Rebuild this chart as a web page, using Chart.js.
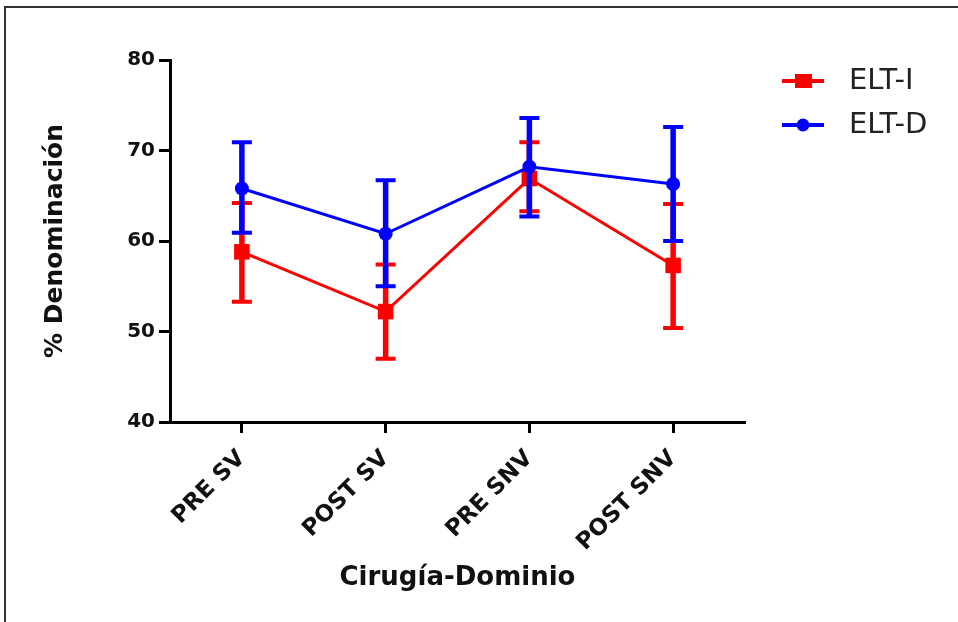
<!DOCTYPE html>
<html>
<head>
<meta charset="utf-8">
<script src="https://cdn.jsdelivr.net/npm/chart.js@4"></script>
<style>
    html, body { margin: 0; padding: 0; background: #fff; }
    #wrap { width: 958px; height: 622px; }
    canvas { display: block; }
</style>
</head>
<body>
<div id="wrap"><canvas id="chart" width="958" height="622"></canvas></div>
<script>
// --- data ---
const categories = ['PRE SV', 'POST SV', 'PRE SNV', 'POST SNV'];
const eltI = [58.8, 52.2, 66.9, 57.3];
const eltIUpper = [64.2, 57.4, 70.9, 64.1];
const eltILower = [53.3, 47.0, 63.3, 50.4];
const eltD = [65.8, 60.8, 68.2, 66.3];
const eltDUpper = [70.9, 66.7, 73.6, 72.6];
const eltDLower = [60.9, 55.0, 62.7, 60.0];
const yTicks = [40, 50, 60, 70, 80];

const FONT = "'DejaVu Sans', Verdana, sans-serif";

// error bars, drawn right after each dataset so blue sits over red
const errorBars = {
    id: 'errorBars',
    afterDatasetDraw(chart, args) {
        const ds = chart.data.datasets[args.index];
        if (!ds.upper) return;
        const ctx = chart.ctx;
        const y = chart.scales.y;
        ctx.save();
        ctx.strokeStyle = ds.borderColor;
        ctx.lineCap = 'butt';
        args.meta.data.forEach((pt, i) => {
            const yt = y.getPixelForValue(ds.upper[i]);
            const yb = y.getPixelForValue(ds.lower[i]);
            ctx.lineWidth = 5.5;
            ctx.beginPath();
            ctx.moveTo(pt.x, yt); ctx.lineTo(pt.x, yb);
            ctx.stroke();
            ctx.lineWidth = 4;
            ctx.beginPath();
            ctx.moveTo(pt.x - 10, yt); ctx.lineTo(pt.x + 10, yt);
            ctx.moveTo(pt.x - 10, yb); ctx.lineTo(pt.x + 10, yb);
            ctx.stroke();
        });
        ctx.restore();
    }
};

// frame + legend on the right of the plot
const decor = {
    id: 'decor',
    beforeDraw(chart) {
        const ctx = chart.ctx;
        ctx.save();
        ctx.strokeStyle = '#333';
        ctx.lineWidth = 2;
        ctx.beginPath();
        ctx.moveTo(5, chart.height); ctx.lineTo(5, 7); ctx.lineTo(chart.width, 7);
        ctx.stroke();
        ctx.restore();
    },
    afterDraw(chart) {
        const ctx = chart.ctx;
        const a = chart.chartArea;
        const x0 = a.right + 37, y0 = a.top + 21;
        ctx.save();
        chart.data.datasets.forEach((ds, i) => {
            const cy = y0 + i * 44;
            const cx = x0 + 21;
            ctx.strokeStyle = ds.borderColor;
            ctx.fillStyle = ds.borderColor;
            ctx.lineWidth = 4;
            ctx.beginPath();
            ctx.moveTo(x0, cy); ctx.lineTo(x0 + 42, cy);
            ctx.stroke();
            if (ds.pointStyle === 'rect') {
                ctx.fillRect(cx - 8, cy - 7, 17, 14);
            } else {
                ctx.beginPath();
                ctx.arc(cx, cy, 6.5, 0, Math.PI * 2);
                ctx.fill();
            }
            ctx.fillStyle = '#222';
            ctx.font = '29px ' + FONT;
            ctx.textBaseline = 'middle';
            ctx.fillText(ds.label, x0 + 67, cy);
        });
        ctx.restore();
    }
};

const ctx = document.getElementById('chart').getContext('2d');
new Chart(ctx, {
    type: 'line',
    data: {
        labels: categories,
        datasets: [
            {
                label: 'ELT-I', data: eltI, upper: eltIUpper, lower: eltILower,
                borderColor: '#ff0000', backgroundColor: '#ff0000',
                borderWidth: 3, pointStyle: 'rect', pointRadius: 11,
                pointBorderWidth: 0, order: 1
            },
            {
                label: 'ELT-D', data: eltD, upper: eltDUpper, lower: eltDLower,
                borderColor: '#0000ff', backgroundColor: '#0000ff',
                borderWidth: 3, pointStyle: 'circle', pointRadius: 7,
                pointBorderWidth: 0, order: 0
            }
        ]
    },
    options: {
        responsive: false,
        animation: false,
        layout: { padding: { top: 60, right: 213, left: 0, bottom: 0 } },
        plugins: { legend: { display: false }, tooltip: { enabled: false } },
        scales: {
            x: {
                offset: true,
                afterFit: s => { s.height = 200; },
                grid: { display: true, drawOnChartArea: false, drawTicks: true, tickLength: 11, tickWidth: 3, tickColor: '#000' },
                border: { display: true, color: '#000', width: 3 },
                ticks: {
                    autoSkip: false, minRotation: 45, maxRotation: 45, padding: 12,
                    color: '#111', font: { family: FONT, size: 23, weight: 'bold' }
                },
                title: {
                    display: true, text: 'Cirugía-Dominio', color: '#111',
                    font: { family: FONT, size: 26, weight: 'bold' },
                    padding: { top: 0, bottom: 28 }
                }
            },
            y: {
                min: 40, max: 80,
                afterFit: s => { s.width = 170; },
                afterBuildTicks: s => { s.ticks = yTicks.map(v => ({ value: v })); },
                grid: { display: true, drawOnChartArea: false, drawTicks: true, tickLength: 11, tickWidth: 3, tickColor: '#000' },
                border: { display: true, color: '#000', width: 3 },
                ticks: {
                    padding: 4, color: '#111',
                    font: { family: FONT, size: 20, weight: 'bold' }
                },
                title: {
                    display: true, text: '% Denominación', color: '#111',
                    font: { family: FONT, size: 25, weight: 'bold' },
                    padding: { top: 40, bottom: 0 }
                }
            }
        }
    },
    plugins: [errorBars, decor]
});
</script>
</body>
</html>
